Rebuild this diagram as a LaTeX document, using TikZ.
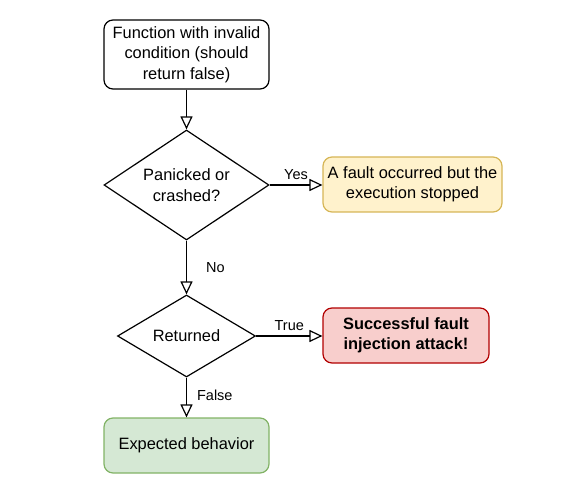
\documentclass[tikz,border=0pt]{standalone}
\usepackage{fontspec}
\setmainfont{Liberation Sans}
\usetikzlibrary{shapes.geometric,arrows.meta}
\definecolor{yfill}{HTML}{FFF2CC}
\definecolor{ydraw}{HTML}{D6B656}
\definecolor{rfill}{HTML}{F8CECC}
\definecolor{rdraw}{HTML}{B20000}
\definecolor{gfill}{HTML}{D5E8D4}
\definecolor{gdraw}{HTML}{82B366}
\tikzset{
  every node/.style={font=\fontsize{16.4}{20.5}\selectfont},
  box/.style={draw, line width=1.2pt, rounded corners=9pt, align=center, inner sep=0pt},
  decision/.style={draw, diamond, line width=1.2pt, align=center, inner sep=0pt, aspect=1.5},
  flow/.style={line width=1.2pt, -{Triangle[open, length=13pt, width=12pt, line width=1.2pt]}},
  lbl/.style={font=\fontsize{14.5}{17}\selectfont, inner sep=1pt}
}
\begin{document}
\begin{tikzpicture}[x=1pt, y=-1pt]
\useasboundingbox (0,0) rectangle (563,500);
\node[box, minimum width=165pt, minimum height=69pt] (start) at (186.5,54.5) {Function with invalid\\condition (should\\return false)};
\node[decision, minimum width=165pt, minimum height=110pt] (crash) at (186.5,185) {Panicked or\\crashed?};
\node[box, draw=ydraw, fill=yfill, minimum width=179pt, minimum height=55pt] (stop) at (412.5,184.5) {A fault occurred but the\\execution stopped};
\node[decision, minimum width=138pt, minimum height=82pt] (ret) at (186.5,336) {Returned};
\node[box, draw=rdraw, fill=rfill, minimum width=166pt, minimum height=55pt, font=\fontsize{16.4}{20.5}\selectfont\bfseries] (attack) at (406,335.5) {Successful fault\\injection attack!};
\node[box, draw=gdraw, fill=gfill, minimum width=165pt, minimum height=55pt] (expected) at (186.5,445.5) {Expected behavior};
\draw[flow] (start) -- (crash);
\draw[flow] (crash.east) -- node[lbl, above=4pt] {Yes} (stop.west |- crash.east);
\draw[flow] (crash) -- node[lbl, right=18pt] {No} (ret);
\draw[flow] (ret.east) -- node[lbl, above=4pt] {True} (attack.west |- ret.east);
\draw[flow] (ret) -- node[lbl, pos=0.45, right=9pt] {False} (expected);
\end{tikzpicture}
\end{document}
